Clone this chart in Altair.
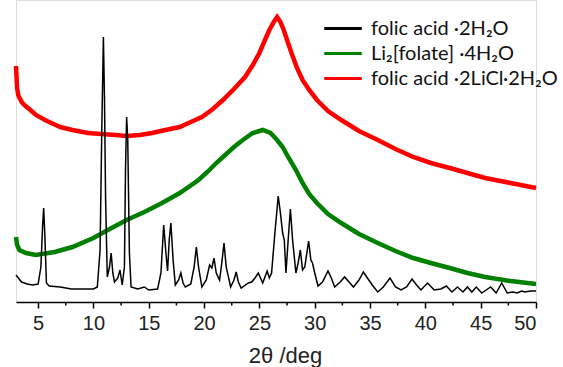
import altair as alt
import pandas as pd

# ---------------- data ----------------
red_x = [3.0, 3.1, 3.2, 3.5, 3.86, 4.3, 4.8, 5.8, 7.0, 8.1, 9.5, 10.7, 12.0, 13.0, 14.2,
         15.3, 16.5, 17.8, 18.8, 19.8, 20.8, 21.7, 22.7, 23.7, 24.4, 25.0, 25.5, 25.9,
         26.3, 26.6, 26.9, 27.2, 27.5, 27.9, 28.4, 28.9, 29.5, 30.2, 31.2, 32.4, 34.0,
         35.7, 37.3, 38.9, 40.5, 42.2, 43.8, 45.4, 47.7, 50.0]
red_y = [235, 213, 206, 199, 195, 191, 186, 180, 174, 171, 168, 167, 166, 165, 166,
         168, 171, 174, 179, 184, 192, 201, 212, 224, 236, 248, 261, 271,
         279, 284, 279, 271, 261, 248, 233, 221, 211, 201, 190, 181, 170,
         161, 152, 144, 138, 133, 128, 123, 118, 113]

green_x = [3.0, 3.1, 3.3, 3.9, 4.8, 6.5, 8.1, 10.0, 11.3, 13.0, 14.6, 16.2, 17.8, 19.5,
           20.3, 21.1, 22.7, 23.5, 24.4, 25.3, 26.0, 26.6, 27.1, 27.6, 28.3, 28.9, 29.5,
           30.2, 31.2, 32.4, 34.0, 35.7, 37.3, 38.9, 40.5, 42.2, 43.8, 45.4, 47.7, 50.0]
green_y = [64, 56, 51, 48, 46, 49, 54, 63, 71, 81, 89, 98, 108, 121,
           129, 138, 154, 161, 168, 171, 168, 161, 154, 144, 131, 118, 107,
           98, 87, 78, 67, 58, 50, 43, 38, 33, 28, 24, 20, 17]

black_x = [3.0, 3.5, 4.0, 4.5, 5.0, 5.25, 5.4, 5.5, 5.6, 5.75, 6.0, 7.0, 8.0, 9.0, 10.0,
           10.35, 10.6, 10.75, 10.9, 11.0, 11.1, 11.25, 11.45, 11.6, 11.75, 11.9, 12.2,
           12.4, 12.6, 12.8, 12.9, 13.0, 13.1, 13.25, 13.4, 14.0, 14.6, 15.0, 15.8, 16.1,
           16.35, 16.55, 16.7, 16.85, 17.0, 17.2, 17.4, 17.7, 17.9, 18.1, 18.3, 18.8, 19.1,
           19.3, 19.5, 19.8, 20.2, 20.5, 20.7, 20.9, 21.1, 21.4, 21.6, 21.8, 22.0, 22.4,
           22.7, 22.9, 23.1, 23.35, 24.0, 24.3, 24.6, 24.9, 25.1, 25.3, 25.5, 25.7, 25.9,
           26.1, 26.4, 26.7, 26.9, 27.1, 27.25, 27.4, 27.6, 27.8, 28.0, 28.3, 28.5, 28.7,
           28.9, 29.1, 29.45, 29.65, 29.8, 30.0, 30.3, 30.7, 31.2, 31.5, 31.8, 32.3, 32.7,
           33.1, 33.5, 34.0, 34.4, 34.7, 35.2, 35.7, 36.2, 36.8, 37.3, 37.8, 38.3, 38.8,
           39.2, 39.6, 40.2, 40.8, 41.4, 41.9, 42.4, 42.9, 43.4, 43.8, 44.2, 44.6, 45.1,
           45.5, 45.9, 46.4, 46.9, 47.4, 47.9, 48.3, 48.7, 49.0, 49.5, 50.0]
black_y = [26, 19, 17, 16, 17, 34, 74, 93, 68, 18, 15, 14, 12, 12, 12,
           14, 51, 168, 264, 201, 101, 24, 34, 48, 28, 19, 23,
           31, 16, 34, 134, 184, 161, 48, 14, 12, 14, 11, 12, 28,
           76, 48, 30, 61, 78, 41, 16, 21, 28, 18, 14, 17, 34,
           54, 34, 14, 21, 36, 33, 43, 28, 21, 38, 58, 34, 14,
           21, 29, 19, 13, 18, 19, 23, 28, 23, 18, 24, 30, 23,
           28, 68, 105, 88, 68, 61, 28, 61, 92, 61, 28, 38, 51,
           31, 34, 60, 41, 38, 28, 15, 19, 30, 23, 14, 19, 24,
           19, 14, 21, 29, 24, 16, 9, 14, 23, 14, 11, 14, 22,
           16, 11, 18, 11, 12, 15, 9, 14, 9, 14, 9, 14, 8,
           11, 14, 8, 18, 8, 9, 8, 10, 9, 10, 10]

series_names = ["folic acid ·2H₂O", "Li₂[folate] ·4H₂O", "folic acid ·2LiCl·2H₂O"]
series_colors = ["#000000", "#008000", "#FF0000"]

major_ticks = [5, 10, 15, 20, 25, 30, 35, 40, 45, 50]
minor_ticks = [7.5, 12.5, 17.5, 22.5, 27.5, 32.5, 37.5, 42.5, 47.5]

# ---------------- tables ----------------
df_black = pd.DataFrame({"x": black_x, "y": black_y, "s": series_names[0]})
df_green = pd.DataFrame({"x": green_x, "y": green_y, "s": series_names[1]})
df_red = pd.DataFrame({"x": red_x, "y": red_y, "s": series_names[2]})
df_minor = pd.DataFrame({"x": minor_ticks})

xscale = alt.Scale(domain=[3, 50], nice=False, zero=False)
yscale = alt.Scale(domain=[-1, 301], nice=False, zero=False)
cscale = alt.Scale(domain=series_names, range=series_colors)

xaxis = alt.Axis(
    values=major_ticks, title="2θ /deg", grid=False,
    domainColor="black", domainWidth=1.5, tickColor="black", tickWidth=1.5, tickSize=6,
    labelFont="Liberation Sans", labelFontSize=20, labelColor="#222222", labelPadding=5,
    titleFont="Liberation Sans", titleFontSize=22, titleFontWeight="normal", titleColor="#222222",
    titleX=269, titleY=60, titleBaseline="alphabetic", titleAnchor="start", titleAlign="center",
)

legend = alt.Legend(
    title=None, orient="none", legendX=313, legendY=14.5,
    symbolType="M-1.5,0H1.5", symbolSize=625, symbolStrokeWidth=3,
    labelFont="Lato", labelFontSize=20, labelColor="#111111", labelOffset=14, labelLimit=400,
    rowPadding=1,
)

def line(df, width, show_legend):
    return alt.Chart(df).mark_line(strokeWidth=width, clip=False).encode(
        x=alt.X("x:Q", scale=xscale, axis=xaxis),
        y=alt.Y("y:Q", scale=yscale, axis=None),
        color=alt.Color("s:N", scale=cscale, legend=legend if show_legend else None),
    )

red = line(df_red, 4.5, True)
green = line(df_green, 4.5, False)
black = line(df_black, 1.5, False)

minor = alt.Chart(df_minor).mark_rule(color="black", strokeWidth=1.5).encode(
    x=alt.X("x:Q", scale=xscale, axis=xaxis),
    y=alt.value(302),
    y2=alt.value(305.5),
)

chart = alt.layer(red, green, black, minor).properties(
    width=520, height=302,
    padding={"left": 16, "right": 27, "top": 0, "bottom": 65},
    autosize=alt.AutoSizeParams(type="none"),
).configure_view(stroke=None).configure(background="white")

chart.save("out.html", embed_options={"renderer": "svg", "actions": False})
